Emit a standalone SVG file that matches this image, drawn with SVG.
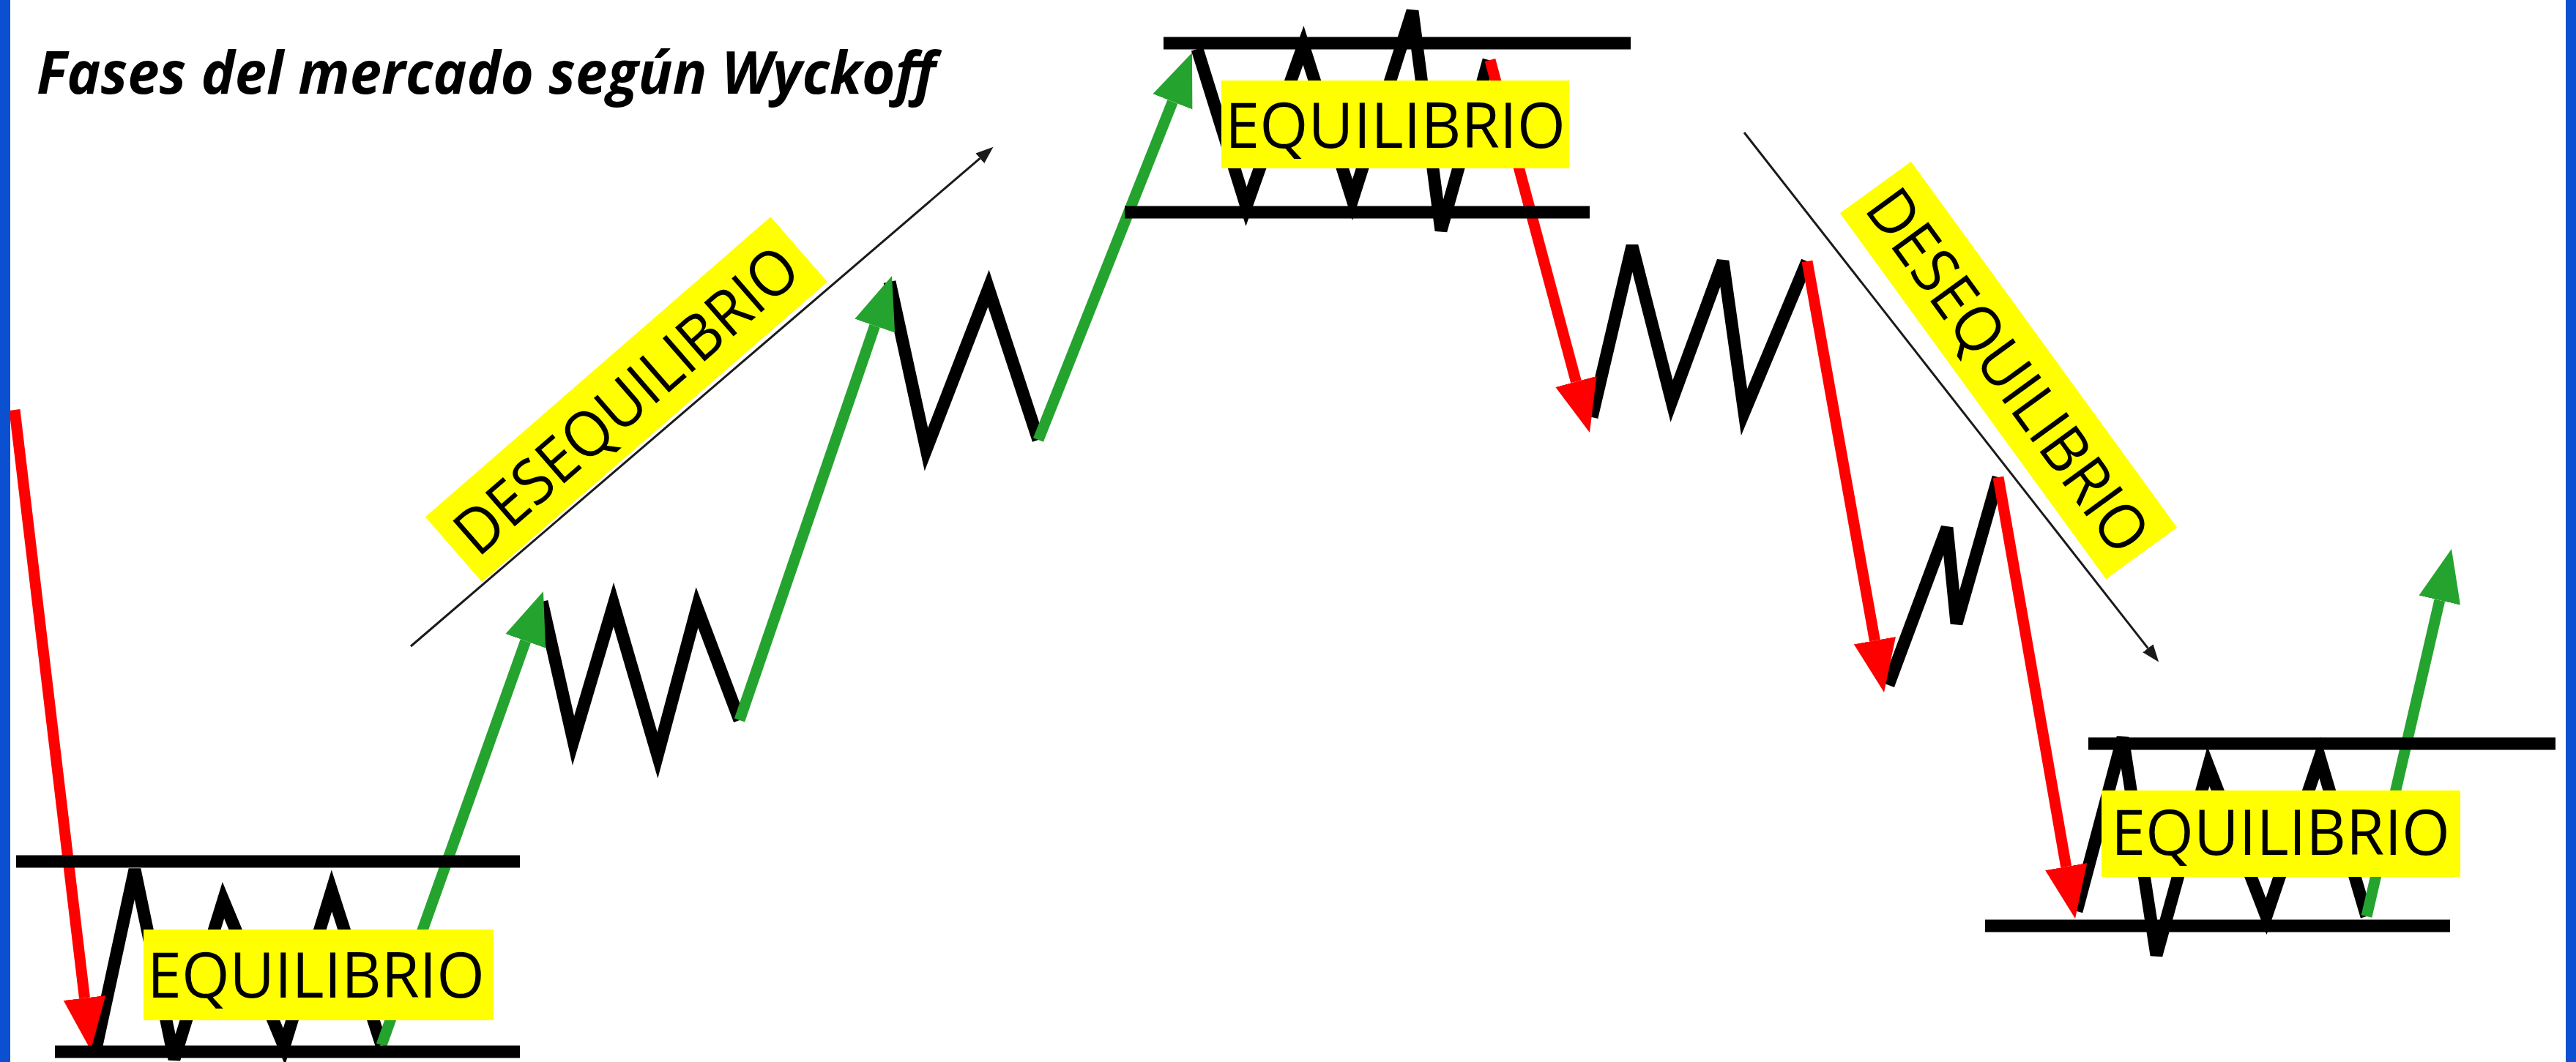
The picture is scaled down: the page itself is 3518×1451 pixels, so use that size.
<svg xmlns="http://www.w3.org/2000/svg" width="3518" height="1451" viewBox="0 0 3518 1451">
<defs>
<style>
.blk{fill:none;stroke:#000;stroke-width:17}
.red{fill:none;stroke:#ff0000;stroke-width:15}
.grn{fill:none;stroke:#25a32f;stroke-width:15}
.hl{stroke:#000;stroke-width:17}
.thin{stroke:#1a1a1a;stroke-width:3;fill:none}
.box{fill:#ffff00}
.lbl{font-family:"Open Sans","Liberation Sans",sans-serif;font-size:86px;fill:#000}
.title{font-family:"Open Sans","Liberation Sans",sans-serif;font-size:81px;font-weight:700;font-style:italic;fill:#000}
.edge{fill:#0b50d0}
</style>
<marker id="ahR" markerUnits="userSpaceOnUse" markerWidth="80" markerHeight="60" viewBox="0 0 80 60" refX="0" refY="30" orient="auto"><path d="M0,1 L72,30 L0,59 Z" fill="#ff0000"/></marker>
<marker id="ahG" markerUnits="userSpaceOnUse" markerWidth="80" markerHeight="60" viewBox="0 0 80 60" refX="0" refY="30" orient="auto"><path d="M0,1 L72,30 L0,59 Z" fill="#25a32f"/></marker>
<marker id="ahT" markerUnits="userSpaceOnUse" markerWidth="26" markerHeight="20" viewBox="0 0 26 20" refX="0" refY="10" orient="auto"><path d="M0,1 L24,10 L0,19 Z" fill="#1a1a1a"/></marker>
</defs>
<rect x="0" y="0" width="3518" height="1451" fill="#ffffff"/>

<g id="title">
<text class="title" x="50" y="128" textLength="1228" lengthAdjust="spacingAndGlyphs">Fases del mercado según Wyckoff</text>
</g>

<g id="connectors">
<path class="blk" d="M131,1433 L184,1188 L238,1447 L305,1230 L388,1430 L453,1217 L521,1428"/>
<path class="blk" d="M740,822 L783,1012 L838,826 L898,1032 L952,830 L1010,984"/>
<path class="blk" d="M1215,385 L1265,614 L1350,394 L1418,601"/>
<path class="blk" d="M1635,67 L1702,282 L1780,62 L1847,273 L1929,15 L1968,315 L2033,82"/>
<path class="blk" d="M2174,570 L2229,336 L2283,548 L2353,357 L2382,563 L2468,357"/>
<path class="blk" d="M2579,936 L2659,721 L2672,852 L2729,652"/>
<path class="blk" d="M2836,1245 L2899,1008 L2945,1305 L3016,1047 L3095,1252 L3168,1035 L3232,1252"/>

<path class="red" d="M20,560 L115.5,1363.5" marker-end="url(#ahR)"/>
<path class="grn" d="M521,1428 L717.8,875.8" marker-end="url(#ahG)"/>
<path class="grn" d="M1010,984 L1194.7,445.1" marker-end="url(#ahG)"/>
<path class="grn" d="M1418,601 L1601.4,138.9" marker-end="url(#ahG)"/>
<path class="red" d="M2035,82 L2152.4,521.4" marker-end="url(#ahR)"/>
<path class="red" d="M2468,357 L2560.4,875.1" marker-end="url(#ahR)"/>
<path class="red" d="M2729,652 L2821.7,1184.1" marker-end="url(#ahR)"/>
<path class="grn" d="M3232,1252 L3331.8,820.1" marker-end="url(#ahG)"/>

<path class="thin" d="M561,883 L1338.3,216.3" marker-end="url(#ahT)"/>
<path class="thin" d="M2382,181 L2933.4,885.7" marker-end="url(#ahT)"/>
</g>

<g id="eq-bottom-left">
<line class="hl" x1="22" y1="1177" x2="710" y2="1177"/>
<line class="hl" x1="75" y1="1437" x2="710" y2="1437"/>
<rect class="box" x="196" y="1270" width="478" height="124"/>
<text class="lbl" x="201" y="1363" textLength="461" lengthAdjust="spacingAndGlyphs">EQUILIBRIO</text>
</g>

<g id="eq-top">
<line class="hl" x1="1589" y1="59" x2="2227" y2="59"/>
<line class="hl" x1="1536" y1="290" x2="2171" y2="290"/>
<rect class="box" x="1668" y="110" width="475" height="120"/>
<text class="lbl" x="1673" y="202" textLength="465" lengthAdjust="spacingAndGlyphs">EQUILIBRIO</text>
</g>

<g id="eq-bottom-right">
<line class="hl" x1="2852" y1="1016" x2="3490" y2="1016"/>
<line class="hl" x1="2711" y1="1265" x2="3346" y2="1265"/>
<rect class="box" x="2870" y="1080" width="490" height="118"/>
<text class="lbl" x="2883" y="1168" textLength="463" lengthAdjust="spacingAndGlyphs">EQUILIBRIO</text>
</g>

<g id="deseq-left" transform="translate(855,546) rotate(-41)">
<rect class="box" x="-312" y="-59" width="625" height="118"/>
<text class="lbl" x="0" y="31" text-anchor="middle" textLength="590" lengthAdjust="spacingAndGlyphs">DESEQUILIBRIO</text>
</g>

<g id="deseq-right" transform="translate(2743,506) rotate(54)">
<rect class="box" x="-309" y="-60" width="618" height="120"/>
<text class="lbl" x="0" y="31" text-anchor="middle" textLength="590" lengthAdjust="spacingAndGlyphs">DESEQUILIBRIO</text>
</g>

<rect class="edge" x="0" y="0" width="14" height="1451"/>
<rect class="edge" x="3504" y="0" width="14" height="1451"/>
</svg>
